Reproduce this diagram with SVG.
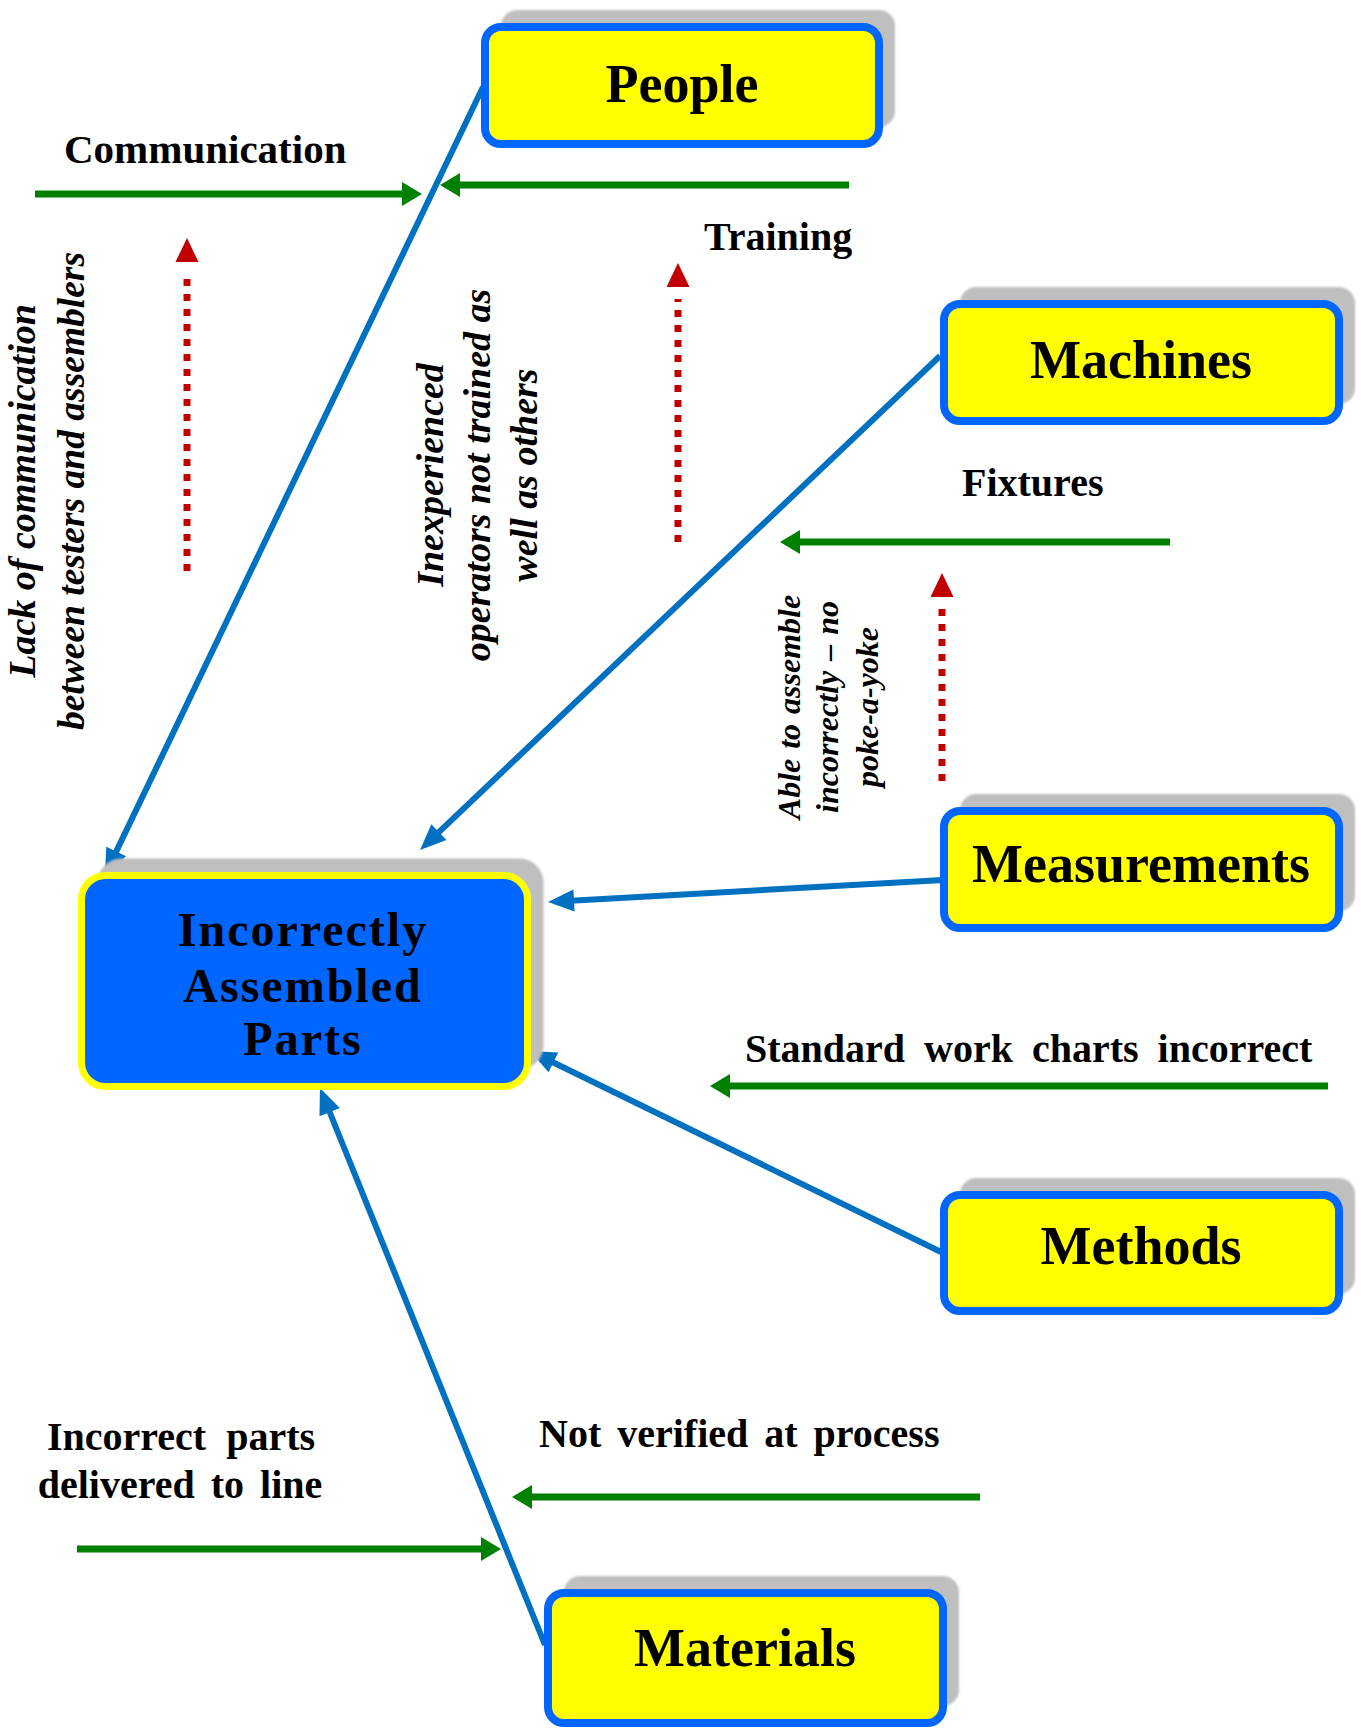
<svg xmlns="http://www.w3.org/2000/svg" width="1365" height="1729" viewBox="0 0 1365 1729">
  <defs>
    <style>
      .box { fill: #FFFF00; stroke: #0066FF; stroke-width: 8; }
      .shadow { fill: #BFBFBF; filter: url(#soft); }
      .effect { fill: #0066FF; stroke: #FFFF00; stroke-width: 7; }
      .node { font-family: "Liberation Serif", "Times New Roman", serif; font-weight: bold; font-size: 54px; text-anchor: middle; fill: #000; }
      .effect-text { font-family: "Liberation Serif", "Times New Roman", serif; font-weight: bold; font-size: 48px; letter-spacing: 2px; text-anchor: middle; fill: #000; }
      .cause { font-family: "Liberation Serif", "Times New Roman", serif; font-weight: bold; font-size: 40px; fill: #000; }
      .vert { font-family: "Liberation Serif", "Times New Roman", serif; font-weight: bold; font-style: italic; font-size: 38px; text-anchor: middle; fill: #000; }
      .vert-sm { font-size: 32px; }
      .bone { stroke: #0070C0; stroke-width: 6; fill: none; marker-end: url(#blueHead); }
      .cause-line { stroke: #008000; stroke-width: 7; fill: none; marker-end: url(#greenHead); }
      .sub-cause { stroke: #C00000; stroke-width: 7; stroke-dasharray: 7 8; fill: none; marker-end: url(#redHead); }
    </style>
    <filter id="soft" x="-5%" y="-10%" width="110%" height="120%">
      <feGaussianBlur stdDeviation="1.2"/>
    </filter>
    <marker id="blueHead" markerUnits="userSpaceOnUse" markerWidth="26" markerHeight="22" refX="12" refY="11" orient="auto" overflow="visible">
      <path d="M0,0 L26,11 L0,22 z" fill="#0070C0"/>
    </marker>
    <marker id="greenHead" markerUnits="userSpaceOnUse" markerWidth="20" markerHeight="24" refX="8" refY="12" orient="auto" overflow="visible">
      <path d="M0,0 L20,12 L0,24 z" fill="#008000"/>
    </marker>
    <marker id="redHead" markerUnits="userSpaceOnUse" markerWidth="24" markerHeight="23" refX="-12" refY="11.5" orient="auto" overflow="visible">
      <path d="M0,0 L24,11.5 L0,23 z" fill="#C00000"/>
    </marker>
  </defs>

  <rect width="1365" height="1729" fill="#FFFFFF"/>

  <!-- connectors: main bones, cause arrows and sub-cause arrows -->
  <g id="connectors">
    <line class="bone" x1="483" y1="87" x2="111" y2="862.4"/>
    <line class="bone" x1="940" y1="356" x2="430.2" y2="840.4"/>
    <line class="bone" x1="943" y1="880" x2="562" y2="901.2"/>
    <line class="bone" x1="941" y1="1252" x2="542.6" y2="1057.2"/>
    <line class="bone" x1="545" y1="1645" x2="325.2" y2="1101"/>

    <line class="cause-line" x1="35" y1="194" x2="410" y2="194"/>
    <line class="cause-line" x1="849" y1="185" x2="452" y2="185"/>
    <line class="cause-line" x1="1170" y1="542" x2="792" y2="542"/>
    <line class="cause-line" x1="1328" y1="1086" x2="722" y2="1086"/>
    <line class="cause-line" x1="980" y1="1497" x2="524" y2="1497"/>
    <line class="cause-line" x1="77" y1="1549" x2="489" y2="1549"/>

    <line class="sub-cause" x1="187" y1="571" x2="187" y2="274"/>
    <line class="sub-cause" x1="678" y1="542" x2="678" y2="299"/>
    <line class="sub-cause" x1="942" y1="781" x2="942" y2="609"/>
  </g>

  <!-- category boxes -->
  <g id="people">
    <rect class="shadow" x="501" y="10" width="394" height="117" rx="16"/>
    <rect class="box" x="485" y="27" width="394" height="117" rx="16"/>
    <text class="node" x="682" y="102">People</text>
  </g>
  <g id="machines">
    <rect class="shadow" x="960" y="287" width="395" height="117" rx="16"/>
    <rect class="box" x="944" y="304" width="395" height="117" rx="16"/>
    <text class="node" x="1141" y="378">Machines</text>
  </g>
  <g id="measurements">
    <rect class="shadow" x="960" y="794" width="395" height="117" rx="16"/>
    <rect class="box" x="944" y="811" width="395" height="117" rx="16"/>
    <text class="node" x="1141" y="882">Measurements</text>
  </g>
  <g id="methods">
    <rect class="shadow" x="960" y="1178" width="395" height="116" rx="16"/>
    <rect class="box" x="944" y="1195" width="395" height="116" rx="16"/>
    <text class="node" x="1141" y="1264">Methods</text>
  </g>
  <g id="materials">
    <rect class="shadow" x="564" y="1576" width="395" height="130" rx="16"/>
    <rect class="box" x="548" y="1593" width="395" height="130" rx="16"/>
    <text class="node" x="745" y="1666">Materials</text>
  </g>

  <!-- effect box -->
  <g id="effect">
    <rect class="shadow" x="97.5" y="858.5" width="446" height="211" rx="24"/>
    <rect class="effect" x="81.5" y="875.5" width="446" height="211" rx="24"/>
    <text class="effect-text" x="303" y="946">Incorrectly</text>
    <text class="effect-text" x="303" y="1002">Assembled</text>
    <text class="effect-text" x="303" y="1055">Parts</text>
  </g>

  <!-- cause labels -->
  <g id="labels">
    <text class="cause" x="64" y="163" style="font-size:41px">Communication</text>
    <text class="cause" x="704" y="250">Training</text>
    <text class="cause" x="962" y="496">Fixtures</text>
    <text class="cause" x="745" y="1062" word-spacing="9">Standard work charts incorrect</text>
    <text class="cause" x="539" y="1447" word-spacing="6">Not verified at process</text>
    <text class="cause" x="181" y="1450" text-anchor="middle" word-spacing="10">Incorrect parts</text>
    <text class="cause" x="180" y="1498" text-anchor="middle" word-spacing="6">delivered to line</text>

    <text class="vert" transform="translate(35,491) rotate(-90)">Lack of communication</text>
    <text class="vert" transform="translate(84,491) rotate(-90)" style="font-size:37.5px">between testers and assemblers</text>

    <text class="vert" transform="translate(443,475) rotate(-90)">Inexperienced</text>
    <text class="vert" transform="translate(490,475) rotate(-90)">operators not trained as</text>
    <text class="vert" transform="translate(537,475) rotate(-90)">well as others</text>

    <text class="vert vert-sm" transform="translate(800,707) rotate(-90)" word-spacing="2">Able to assemble</text>
    <text class="vert vert-sm" transform="translate(838,707) rotate(-90)" word-spacing="2">incorrectly – no</text>
    <text class="vert vert-sm" transform="translate(878,707) rotate(-90)">poke-a-yoke</text>
  </g>
</svg>
